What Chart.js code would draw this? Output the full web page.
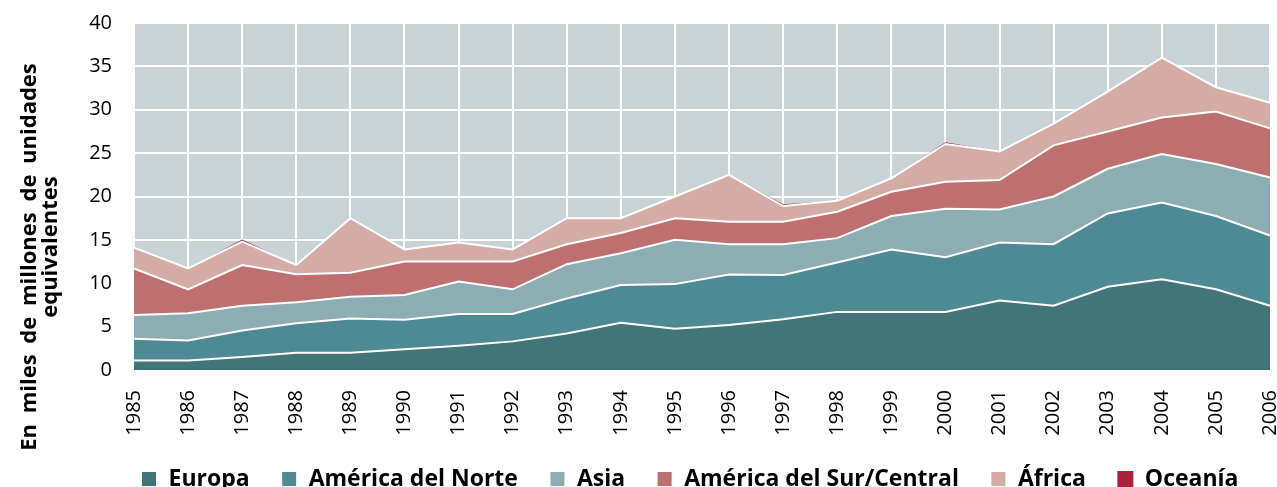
<!DOCTYPE html>
<html>
<head>
<meta charset="utf-8">
<script src="https://cdn.jsdelivr.net/npm/chart.js@4/dist/chart.umd.min.js"></script>
<style>
  html, body { margin: 0; padding: 0; background: #fff; }
  #wrap { width: 1277px; height: 487px; position: relative; }
</style>
</head>
<body>
<div id="wrap"><canvas id="c"></canvas></div>
<script>
const years = ['1985','1986','1987','1988','1989','1990','1991','1992','1993','1994','1995','1996','1997','1998','1999','2000','2001','2002','2003','2004','2005','2006'];
const europa = [1.1,1.1,1.5,2.0,2.0,2.4,2.8,3.3,4.2,5.45,4.75,5.2,5.85,6.7,6.7,6.7,8.0,7.4,9.6,10.45,9.3,7.4];
const americaNorte = [2.5,2.3,3.05,3.4,3.95,3.4,3.65,3.15,4.05,4.35,5.15,5.8,5.1,5.7,7.2,6.3,6.7,7.1,8.45,8.85,8.45,8.1];
const asia = [2.75,3.15,2.85,2.4,2.5,2.85,3.75,2.85,3.95,3.65,5.1,3.5,3.55,2.8,3.85,5.6,3.8,5.5,5.15,5.6,6.0,6.7];
const americaSur = [5.35,2.75,4.7,3.25,2.75,3.85,2.3,3.2,2.3,2.35,2.5,2.6,2.6,3.05,2.8,3.1,3.4,5.9,4.3,4.2,6.05,5.65];
const africa = [2.4,2.4,2.7,1.05,6.3,1.4,2.2,1.4,3.0,1.7,2.5,5.4,1.8,1.25,1.55,4.35,3.3,2.5,4.6,6.9,2.8,2.95];
const oceania = [0,0,0.25,0,0,0,0,0,0,0,0,0,0.2,0,0,0.2,0,0,0,0,0,0];
const seriesNames = ['Europa','América del Norte','Asia','América del Sur/Central','África','Oceanía'];
const yTicks = [0,5,10,15,20,25,30,35,40];
const yTitle = ['En miles de millones de unidades','equivalentes'];

const colors = ['#427577','#4e8a94','#8cadb2','#bd706f','#d4aca5','#a8243c'];
const FONT = "'Open Sans', 'DejaVu Sans', sans-serif";

const bgPlugin = {
  id: 'plotBg',
  beforeDraw(chart) {
    const a = chart.chartArea, ctx = chart.ctx;
    ctx.save();
    ctx.fillStyle = '#c9d2d5';
    ctx.fillRect(a.left, a.top, a.right - a.left, a.bottom - a.top);
    ctx.restore();
  }
};
const titlePlugin = {
  id: 'yTitle',
  afterDraw(chart) {
    const ctx = chart.ctx;
    ctx.save();
    ctx.font = "bold 22px " + FONT;
    ctx.fillStyle = '#000';
    ctx.textAlign = 'center';
    ctx.textBaseline = 'alphabetic';
    try { ctx.wordSpacing = '5px'; } catch (e) {}
    const pos = [[36, 257], [56.5, 247]];
    yTitle.forEach((t, i) => {
      ctx.save();
      ctx.translate(pos[i][0], pos[i][1]);
      ctx.rotate(-Math.PI / 2);
      ctx.fillText(t, 0, 0);
      ctx.restore();
    });
    ctx.restore();
  }
};

const dataArrays = [europa, americaNorte, asia, americaSur, africa, oceania];
const datasets = dataArrays.map((d, i) => ({
  label: seriesNames[i],
  data: d,
  backgroundColor: colors[i],
  borderColor: i === 5 ? colors[i] : '#ffffff',
  borderWidth: i === 5 ? 0 : 2,
  fill: i === 0 ? 'origin' : '-1',
  pointRadius: 0,
  pointHoverRadius: 0,
  tension: 0
}));

new Chart(document.getElementById('c'), {
  type: 'line',
  data: { labels: years, datasets },
  plugins: [bgPlugin, titlePlugin],
  options: {
    responsive: true,
    maintainAspectRatio: false,
    animation: false,
    events: [],
    layout: { padding: { left: 85, right: 7, top: 23, bottom: 0 } },
    plugins: {
      tooltip: { enabled: false },
      legend: {
        position: 'bottom',
        align: 'end',
        maxHeight: 51,
        labels: {
          font: { family: FONT, size: 23, weight: 'bold' },
          color: '#000',
          boxWidth: 16,
          boxHeight: 16,
          padding: 31.5
        }
      }
    },
    scales: {
      x: {
        afterFit(scale) { scale.height = 66; scale.paddingLeft = 0; scale.paddingRight = 0; },
        grid: { color: '#ffffff', lineWidth: 2, drawTicks: false },
        border: { display: false },
        ticks: {
          font: { family: FONT, size: 20 },
          color: '#000',
          minRotation: 90,
          maxRotation: 90,
          padding: 20,
          autoSkip: false
        }
      },
      y: {
        stacked: true,
        min: 0,
        max: 40,
        afterFit(scale) { scale.width = 49; scale.paddingTop = 0; scale.paddingBottom = 0; },
        afterBuildTicks(scale) { scale.ticks = yTicks.map(v => ({ value: v })); },
        grid: { color: '#ffffff', lineWidth: 2, drawTicks: false },
        border: { display: false },
        ticks: {
          font: { family: FONT, size: 20 },
          color: '#000',
          padding: 22
        }
      }
    }
  }
});
</script>
</body>
</html>
